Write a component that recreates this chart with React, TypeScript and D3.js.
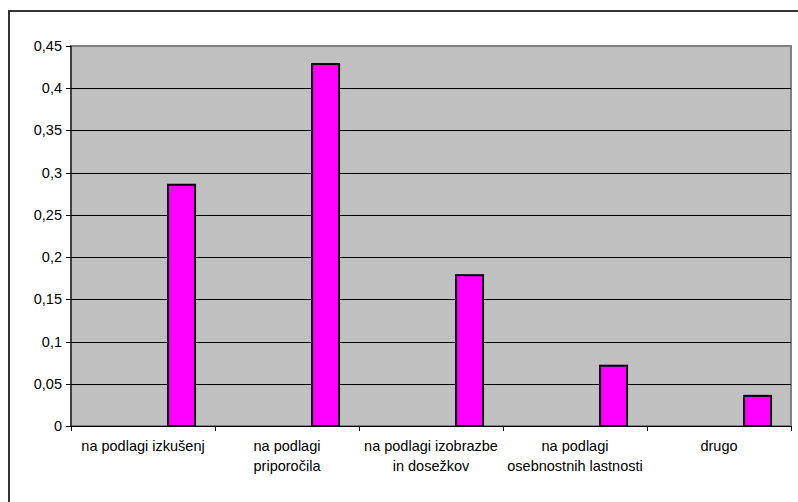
import React from "react";
import * as d3 from "d3";

const categories: string[][] = [
  ["na podlagi izkušenj"],
  ["na podlagi", "priporočila"],
  ["na podlagi izobrazbe", "in dosežkov"],
  ["na podlagi", "osebnostnih lastnosti"],
  ["drugo"],
];
const values: number[] = [0.2857, 0.4286, 0.1786, 0.0714, 0.0357];
const yTicks: number[] = [0, 0.05, 0.1, 0.15, 0.2, 0.25, 0.3, 0.35, 0.4, 0.45];
const yTickLabels: string[] = ["0", "0,05", "0,1", "0,15", "0,2", "0,25", "0,3", "0,35", "0,4", "0,45"];

const W = 798;
const H = 502;
const plot = { left: 71, top: 46, right: 791, bottom: 426 };
const font = "'Liberation Sans', Arial, sans-serif";

export default function App() {
  const x = d3
    .scaleBand<number>()
    .domain(d3.range(categories.length))
    .range([plot.left, plot.right])
    .paddingInner(0)
    .paddingOuter(0);
  const y = d3.scaleLinear().domain([0, 0.45]).range([plot.bottom, plot.top]);
  const bw = x.bandwidth();
  const barW = bw * 0.1875;
  const barOff = bw * 0.674;

  return (
    <svg
      width={W}
      height={H}
      style={{ position: "absolute", left: 0, top: 0, background: "#fff" }}
    >
      {/* outer chart frame */}
      <rect x={9} y={11} width={W + 20} height={H + 20} fill="#fff" stroke="#333" strokeWidth={2} />
      {/* plot area */}
      <rect
        x={plot.left}
        y={plot.top}
        width={plot.right - plot.left}
        height={plot.bottom - plot.top}
        fill="#C0C0C0"
        stroke="#808080"
        strokeWidth={2}
      />
      {/* gridlines */}
      {yTicks.slice(1, -1).map((t) => (
        <line
          key={"g" + t}
          x1={plot.left}
          x2={plot.right}
          y1={Math.round(y(t)) + 0.5}
          y2={Math.round(y(t)) + 0.5}
          stroke="#000"
          strokeWidth={1}
        />
      ))}
      {/* bars */}
      {values.map((v, i) => (
        <rect
          key={"b" + i}
          x={(x(i) as number) + barOff}
          y={y(v)}
          width={barW}
          height={plot.bottom - y(v)}
          fill="#FF00FF"
          stroke="#000"
          strokeWidth={2}
        />
      ))}
      {/* y axis */}
      <line x1={plot.left} x2={plot.left} y1={plot.top} y2={plot.bottom} stroke="#000" strokeWidth={1} />
      {yTicks.map((t, i) => (
        <g key={"y" + t}>
          <line
            x1={plot.left - 5}
            x2={plot.left}
            y1={Math.round(y(t)) + 0.5}
            y2={Math.round(y(t)) + 0.5}
            stroke="#000"
          />
          <text
            x={plot.left - 9}
            y={y(t) + 5}
            textAnchor="end"
            fontFamily={font}
            fontSize={14.5}
            fill="#000"
          >
            {yTickLabels[i]}
          </text>
        </g>
      ))}
      {/* x axis */}
      <line x1={plot.left} x2={plot.right} y1={plot.bottom + 0.5} y2={plot.bottom + 0.5} stroke="#000" strokeWidth={1} />
      {d3.range(categories.length + 1).map((i) => {
        const px = Math.round(plot.left + i * bw) + 0.5;
        return <line key={"xt" + i} x1={px} x2={px} y1={plot.bottom} y2={plot.bottom + 5} stroke="#000" />;
      })}
      {categories.map((lines, i) => (
        <text
          key={"c" + i}
          x={(x(i) as number) + bw / 2}
          y={451}
          textAnchor="middle"
          fontFamily={font}
          fontSize={14.5}
          fill="#000"
        >
          {lines.map((l, j) => (
            <tspan key={j} x={(x(i) as number) + bw / 2} dy={j === 0 ? 0 : 20}>
              {l}
            </tspan>
          ))}
        </text>
      ))}
    </svg>
  );
}
